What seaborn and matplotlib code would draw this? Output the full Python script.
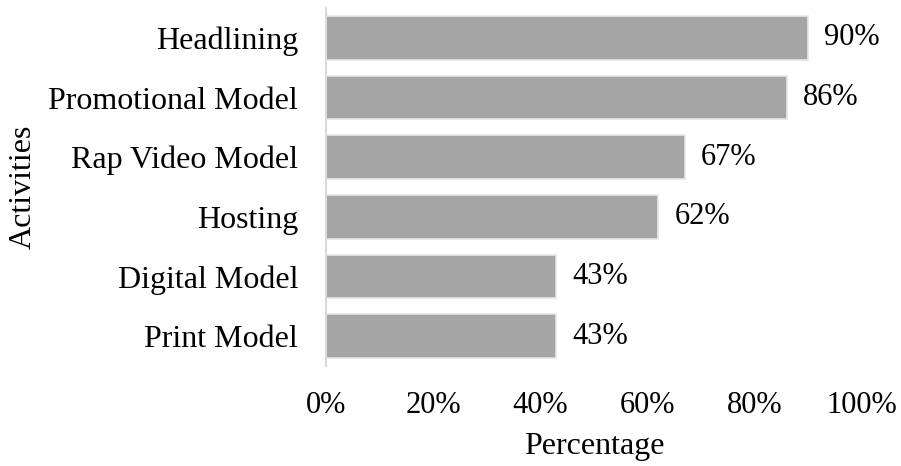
import matplotlib
matplotlib.use("Agg")
import matplotlib.pyplot as plt
import seaborn as sns
import pandas as pd

activities = ["Headlining", "Promotional Model", "Rap Video Model",
              "Hosting", "Digital Model", "Print Model"]
percentages = [90, 86, 67, 62, 43, 43]
x_ticks = [0, 20, 40, 60, 80, 100]

df = pd.DataFrame({"Activities": activities, "Percentage": percentages})

sns.set_theme(style="white")
plt.rcParams["font.family"] = ["Liberation Serif", "DejaVu Serif"]

FS = 22
FS_CAT = 23

fig = plt.figure(figsize=(9.01, 4.66), dpi=100)
ax = fig.add_axes([0.3618, 0.2146, 0.5949, 0.7682])

sns.barplot(data=df, x="Percentage", y="Activities", orient="h",
            color="#a5a5a5", saturation=1, width=0.73,
            edgecolor="#e6e6e6", linewidth=1.2, ax=ax)

for i, v in enumerate(percentages):
    ax.text(v + 3, i, f"{v}%", va="center", ha="left",
            fontsize=FS, color="black")

ax.set_xlim(0, 100)
ax.set_xticks(x_ticks)
ax.set_xticklabels([f"{t}%" for t in x_ticks], fontsize=FS, color="black")
ax.tick_params(axis="y", labelsize=FS_CAT, colors="black", length=0, pad=20)
ax.tick_params(axis="x", length=0, pad=18)
ax.set_xlabel("Percentage", fontsize=FS_CAT, color="black", labelpad=9)
ax.set_ylabel("Activities", fontsize=FS_CAT, color="black", labelpad=8)

for side in ["top", "right", "bottom"]:
    ax.spines[side].set_visible(False)
ax.spines["left"].set_color("#d9d9d9")
ax.spines["left"].set_linewidth(1.5)

fig.savefig("out.png", dpi=100)
